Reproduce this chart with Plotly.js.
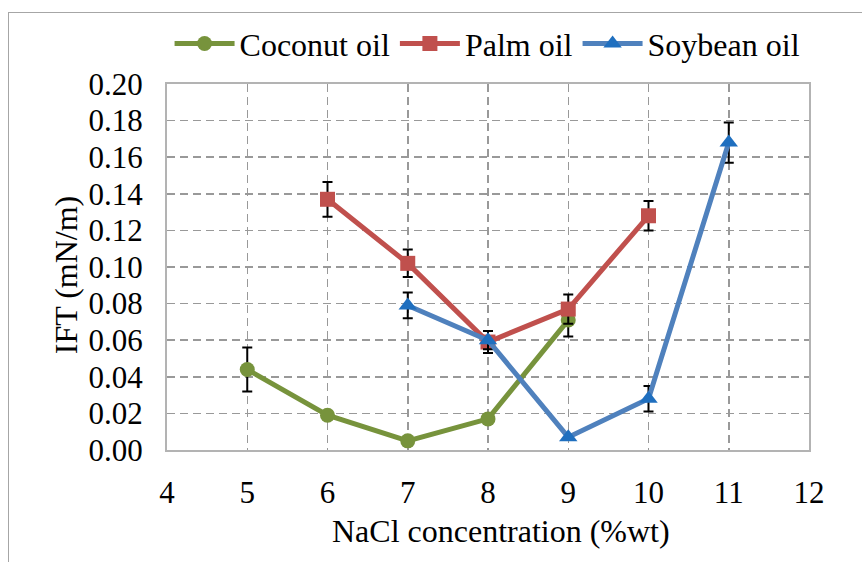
<!DOCTYPE html>
<html>
<head>
<meta charset="utf-8">
<script src="https://cdn.plot.ly/plotly-3.0.1.min.js"></script>
<style>
  body { margin: 0; background: #fff; }
  #frame { position: absolute; left: 8px; top: 12px; width: 900px; height: 600px;
           border-left: 1px solid #a6a6a6; border-top: 1px solid #a6a6a6; }
  #chart { position: absolute; left: 0; top: 0; width: 862px; height: 562px; }
</style>
</head>
<body>
<div id="frame"></div>
<div id="chart"></div>
<script>
// NaCl concentration (%wt) and IFT (mN/m)
const coconutX = [5, 6, 7, 8, 9];
const coconutY = [0.044, 0.019, 0.005, 0.017, 0.071];
const coconutErr = [0.012, 0, 0, 0, 0.009];

const palmX = [6, 7, 8, 9, 10];
const palmY = [0.137, 0.102, 0.059, 0.077, 0.128];
const palmErr = [0.0095, 0.0075, 0.006, 0.008, 0.008];

const soyX = [7, 8, 9, 10, 11];
const soyY = [0.079, 0.060, 0.007, 0.028, 0.168];
const soyErr = [0.007, 0.005, 0, 0.007, 0.011];

const font = '"Liberation Serif", "Times New Roman", serif';

function series(name, x, y, err, lineColor, markerColor, symbol, size) {
  return {
    x: x,
    y: y,
    name: name,
    type: 'scatter',
    mode: 'lines+markers',
    line: {color: lineColor, width: 5},
    marker: {color: markerColor, symbol: symbol, size: size},
    error_y: {type: 'data', array: err, visible: true, color: '#000', thickness: 2, width: 5},
  };
}

let data = [
  series('Coconut oil', coconutX, coconutY, coconutErr, '#77933C', '#77933C', 'circle', 15),
  series('Palm oil', palmX, palmY, palmErr, '#C0504D', '#C0504D', 'square', 15),
  series('Soybean oil', soyX, soyY, soyErr, '#4F81BD', '#1F6FBF', 'triangle-up', 16),
];

let layout = {
  width: 862,
  height: 562,
  margin: {l: 167, r: 53, t: 84, b: 112},
  paper_bgcolor: 'rgba(0,0,0,0)',
  plot_bgcolor: '#fff',
  font: {family: font, size: 32, color: '#000'},
  showlegend: true,
  legend: {
    orientation: 'h',
    x: 0.004, xanchor: 'left',
    y: 1.11, yanchor: 'middle',
    itemwidth: 60,
    font: {family: font, size: 32, color: '#000'},
    itemclick: false,
  },
  xaxis: {
    range: [4, 12],
    dtick: 1,
    showgrid: true,
    gridcolor: '#999',
    griddash: '8px,5px',
    gridwidth: 1.5,
    showline: true,
    linecolor: '#b3b3b3',
    linewidth: 2,
    mirror: true,
    zeroline: false,
    ticks: '',
    ticklabelstandoff: 14,
    tickfont: {family: font, size: 31},
  },
  yaxis: {
    range: [0, 0.2],
    dtick: 0.02,
    tickformat: '.2f',
    showgrid: true,
    gridcolor: '#999',
    griddash: '8px,5px',
    gridwidth: 1.5,
    showline: true,
    linecolor: '#b3b3b3',
    linewidth: 2,
    mirror: true,
    zeroline: false,
    ticks: '',
    ticklabelstandoff: 16,
    tickfont: {family: font, size: 31},
  },
  annotations: [
    {
      text: 'NaCl concentration (%wt)',
      xref: 'paper', yref: 'paper',
      x: 0.52, y: -0.221, xanchor: 'center', yanchor: 'middle',
      showarrow: false,
      font: {family: font, size: 32, color: '#000'},
    },
    {
      text: 'IFT (mN/m)',
      xref: 'paper', yref: 'paper',
      x: -0.157, y: 0.478, xanchor: 'center', yanchor: 'middle',
      textangle: -90,
      showarrow: false,
      font: {family: font, size: 32, color: '#000'},
    },
  ],
};

Plotly.newPlot('chart', data, layout, {displayModeBar: false, staticPlot: true});
</script>
</body>
</html>
